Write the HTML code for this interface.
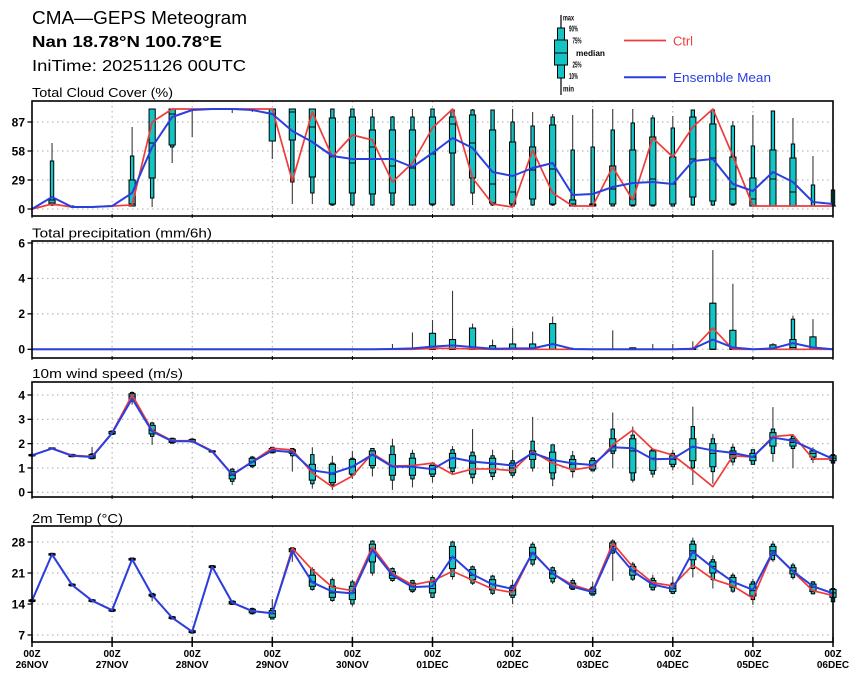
<!DOCTYPE html>
<html><head><meta charset="utf-8">
<style>
html,body{margin:0;padding:0;background:#fff;}
svg{display:block;}
text{font-family:"Liberation Sans",Arial,sans-serif;fill:#000;}
.yl{font-size:12px;font-weight:bold;text-anchor:end;}
.xl{font-size:10px;font-weight:bold;text-anchor:middle;}
.lg{font-size:8.5px;font-weight:bold;}
</style></head><body>
<svg id="s" width="860" height="680" viewBox="0 0 860 680" xmlns="http://www.w3.org/2000/svg">
<rect width="860" height="680" fill="#fff"/>
<g id="grid"></g>
<g id="boxes"></g>
<g id="lines"></g>
<g id="frames"></g>

<text x="32" y="24" font-size="18" textLength="215" lengthAdjust="spacingAndGlyphs">CMA—GEPS Meteogram</text>
<text x="32" y="47" font-size="16" font-weight="bold" textLength="190" lengthAdjust="spacingAndGlyphs">Nan 18.78°N 100.78°E</text>
<text x="32" y="71" font-size="16" textLength="214" lengthAdjust="spacingAndGlyphs">IniTime: 20251126 00UTC</text>

<!-- legend -->
<line x1="561" y1="15" x2="561" y2="95" stroke="#000" stroke-width="1.2"/>
<rect x="557.5" y="28" width="7" height="50" fill="#14c3c3" stroke="#000" stroke-width="1"/>
<rect x="554.5" y="40" width="13" height="25" fill="#14c3c3" stroke="#000" stroke-width="1"/>
<line x1="554.5" y1="53" x2="567.5" y2="53" stroke="#000" stroke-width="1"/>
<text class="lg" x="563" y="20.5" textLength="11" lengthAdjust="spacingAndGlyphs">max</text>
<text class="lg" x="569" y="31.5" textLength="9" lengthAdjust="spacingAndGlyphs">90%</text>
<text class="lg" x="572.5" y="43.5" textLength="9" lengthAdjust="spacingAndGlyphs">75%</text>
<text class="lg" x="576" y="56" textLength="29" lengthAdjust="spacingAndGlyphs">median</text>
<text class="lg" x="572.5" y="67.5" textLength="9" lengthAdjust="spacingAndGlyphs">25%</text>
<text class="lg" x="569" y="79" textLength="9" lengthAdjust="spacingAndGlyphs">10%</text>
<text class="lg" x="563" y="91.5" textLength="11" lengthAdjust="spacingAndGlyphs">min</text>
<line x1="624" y1="40.5" x2="666" y2="40.5" stroke="#ee3b3b" stroke-width="1.8"/>
<text x="673" y="45.5" font-size="13" style="fill:#ee3b3b" textLength="20" lengthAdjust="spacingAndGlyphs">Ctrl</text>
<line x1="624" y1="77.3" x2="666" y2="77.3" stroke="#2a3fe0" stroke-width="2"/>
<text x="673" y="82" font-size="13" style="fill:#2a3fe0" textLength="98" lengthAdjust="spacingAndGlyphs">Ensemble Mean</text>

<!-- panel titles -->
<text x="32" y="97" font-size="12.5" textLength="141" lengthAdjust="spacingAndGlyphs">Total Cloud Cover (%)</text>
<text x="32" y="237.5" font-size="12.5" textLength="180" lengthAdjust="spacingAndGlyphs">Total precipitation (mm/6h)</text>
<text x="32" y="378" font-size="12.5" textLength="151" lengthAdjust="spacingAndGlyphs">10m wind speed (m/s)</text>
<text x="32" y="523" font-size="12.5" textLength="91" lengthAdjust="spacingAndGlyphs">2m Temp (°C)</text>

<!-- y labels -->
<text class="yl" x="25" y="126.3">87</text>
<text class="yl" x="25" y="155.3">58</text>
<text class="yl" x="25" y="184.3">29</text>
<text class="yl" x="25" y="213.3">0</text>

<text class="yl" x="25" y="247.3">6</text>
<text class="yl" x="25" y="282.6">4</text>
<text class="yl" x="25" y="318.2">2</text>
<text class="yl" x="25" y="353.6">0</text>

<text class="yl" x="25" y="399.3">4</text>
<text class="yl" x="25" y="423.6">3</text>
<text class="yl" x="25" y="448">2</text>
<text class="yl" x="25" y="472.3">1</text>
<text class="yl" x="25" y="496.6">0</text>

<text class="yl" x="25" y="546.3">28</text>
<text class="yl" x="25" y="577.3">21</text>
<text class="yl" x="25" y="608.3">14</text>
<text class="yl" x="25" y="639.3">7</text>

<!-- x labels -->
<text class="xl" x="32" y="657">00Z</text><text class="xl" x="32" y="668">26NOV</text>
<text class="xl" x="112.1" y="657">00Z</text><text class="xl" x="112.1" y="668">27NOV</text>
<text class="xl" x="192.2" y="657">00Z</text><text class="xl" x="192.2" y="668">28NOV</text>
<text class="xl" x="272.3" y="657">00Z</text><text class="xl" x="272.3" y="668">29NOV</text>
<text class="xl" x="352.4" y="657">00Z</text><text class="xl" x="352.4" y="668">30NOV</text>
<text class="xl" x="432.5" y="657">00Z</text><text class="xl" x="432.5" y="668">01DEC</text>
<text class="xl" x="512.6" y="657">00Z</text><text class="xl" x="512.6" y="668">02DEC</text>
<text class="xl" x="592.7" y="657">00Z</text><text class="xl" x="592.7" y="668">03DEC</text>
<text class="xl" x="672.8" y="657">00Z</text><text class="xl" x="672.8" y="668">04DEC</text>
<text class="xl" x="752.9" y="657">00Z</text><text class="xl" x="752.9" y="668">05DEC</text>
<text class="xl" x="833" y="657">00Z</text><text class="xl" x="833" y="668">06DEC</text>
</svg>
<script>
(function(){
const NS='http://www.w3.org/2000/svg';
function el(tag,a,p){const e=document.createElementNS(NS,tag);for(const k in a)e.setAttribute(k,a[k]);p.appendChild(e);return e;}
const X=i=>32+i*20.025;
const gGrid=document.getElementById('grid'),gBox=document.getElementById('boxes'),gLines=document.getElementById('lines'),gFr=document.getElementById('frames');
function tb(v,d){return [v-d,v-d*0.7,v-d*0.45,v,v+d*0.45,v+d*0.7,v+d];}

// Panel 1 cloud
const c1=[0,5,2,2,3,4,87,100,100,100,100,100,100,28,97,52,74,69,27,46,81,100,31,5,2,59,16,3,3,42,9,71,52,82,100,53,3,3,3,3,3];
const m1=[0,12,2,2,3,16,62,92,99,100,100,99,95,78,67,53,50,50,50,42,56,71,61,37,33,41,46,14,15,22,26,27,25,48,50,25,18,37,27,7,5];
const b1=[
[0,0,0,0,0,0,0],[3,4,4,6,9,48,66],[1,2,2,2,2,3,3],[2,2,2,2,2,2,2.5],[3,3,3,3,3,3,3.5],
[3,3,3,5,29,53,82],[2,11,31,66,100,100,100],[46,62,64,95,100,100,100],[72,100,100,100,100,100,100],[99,100,100,100,100,100,100],
[96,100,100,100,100,100,100],[97,100,100,100,100,100,100],[50,68,68,95,100,100,100],[5,27,69,97,100,100,100],[5,16,32,82,100,100,100],
[3,4,5,52,91,100,100],[3,4,16,46,92,100,100],[3,4,15,62,79,92,100],[3,4,16,43,79,92,93],[3,4,4,41,79,92,100],
[3,4,5,55,92,100,100],[3,4,56,85,92,99,100],[4,16,31,66,94,99,100],[3,4,6,25,79,99,99],[3,3,5,17,67,87,100],
[3,4,10,39,62,83,97],[3,4,5,40,84,92,95],[3,3,3,5,9,59,94],[3,3,3,4,5,62,100],[3,3,5,20,43,79,100],
[3,3,4,10,59,86,100],[3,3,4,30,72,91,94],[3,3,5,25,52,81,93],[3,4,12,50,92,99,99],[3,4,8,51,85,99,99],
[3,4,5,20,52,83,88],[3,3,3,10,31,63,94],[3,3,3,30,59,98,98],[3,3,3,17,51,65,91],[3,3,3,3,3,24,53],[3,3,3,3,3,19,19]];

// Panel 2 precip
const c2=new Array(41).fill(0); c2[20]=0.05;c2[21]=0.05;c2[22]=0.02;c2[34]=1.2;
const m2=new Array(41).fill(0);
Object.entries({18:0.02,19:0.05,20:0.15,21:0.22,22:0.12,23:0.03,24:0.05,25:0.05,26:0.3,27:0.02,33:0.03,34:0.55,35:0.1,37:0.05,38:0.35,39:0.1}).forEach(([k,v])=>m2[k]=v);
const b2=new Array(41).fill(null);
const pb={15:[0,0,0,0,0,0,0.05],16:[0,0,0,0,0,0,0.06],17:[0,0,0,0,0,0,0.05],18:[0,0,0,0,0,0,0.3],19:[0,0,0,0,0,0,0.95],
20:[0,0,0,0,0.9,0.9,1.65],21:[0,0,0,0,0.55,0.55,3.3],22:[0,0,0,0,1.2,1.2,1.45],23:[0,0,0,0,0.2,0.2,0.55],24:[0,0,0,0,0.3,0.3,1.2],
25:[0,0,0,0,0.3,0.3,1.0],26:[0,0,0,0,1.45,1.45,1.85],27:[0,0,0,0,0,0,0.1],29:[0,0,0,0,0,0,1.07],30:[0,0,0,0,0.08,0.08,0.1],
31:[0,0,0,0,0,0,0.3],32:[0,0,0,0,0,0,0.3],33:[0,0,0,0,0.05,0.05,0.45],34:[0,0,0,0,2.6,2.6,5.6],35:[0,0,0,0,1.07,1.07,3.7],
37:[0,0,0,0,0.25,0.25,0.35],38:[0,0,0,0.1,0.55,1.7,1.9],39:[0,0,0,0,0.7,0.7,1.7]};
for(const k in pb)b2[k]=pb[k];

// Panel 3 wind
const c3=[1.52,1.81,1.52,1.47,2.45,4.0,2.55,2.12,2.12,1.7,0.74,1.26,1.81,1.74,0.8,0.22,0.67,1.6,1.08,1.1,1.2,0.74,0.96,0.96,0.89,1.67,1.2,0.92,1.05,1.95,2.56,1.77,1.53,0.9,0.23,1.5,1.45,2.29,2.36,1.37,1.37];
const m3=[1.52,1.8,1.5,1.45,2.43,3.85,2.5,2.1,2.1,1.68,0.72,1.25,1.72,1.65,0.9,0.78,1.05,1.55,1.05,1.05,0.95,1.42,1.26,1.19,1.1,1.62,1.33,1.19,1.12,1.85,1.81,1.36,1.38,1.88,1.72,1.62,1.45,2.25,2.12,1.74,1.37];
const b3=[
[1.48,1.49,1.5,1.52,1.55,1.56,1.57],[1.77,1.78,1.79,1.8,1.82,1.83,1.84],[1.45,1.46,1.47,1.5,1.55,1.56,1.57],[1.35,1.38,1.4,1.45,1.55,1.58,1.86],[2.35,2.38,2.4,2.43,2.5,2.52,2.55],
[3.6,3.75,3.8,3.95,4.05,4.1,4.15],[1.95,2.3,2.4,2.55,2.75,2.85,2.9],[2.0,2.02,2.05,2.1,2.2,2.22,2.25],[2.05,2.07,2.08,2.1,2.17,2.19,2.2],[1.64,1.65,1.66,1.68,1.7,1.71,1.72],
[0.3,0.45,0.55,0.7,0.85,0.95,1.0],[1.0,1.05,1.1,1.25,1.4,1.45,1.5],[1.6,1.62,1.65,1.75,1.8,1.85,1.86],[0.85,1.5,1.6,1.7,1.75,1.8,1.8],[0.15,0.35,0.5,0.9,1.15,1.55,1.85],
[0.1,0.3,0.4,0.75,1.15,1.2,1.5],[0.55,0.7,0.75,1.05,1.35,1.4,1.7],[0.65,1.0,1.1,1.55,1.7,1.8,1.8],[0.1,0.5,0.7,1.1,1.55,1.9,2.2],[0.2,0.55,0.7,1.05,1.4,1.6,1.75],
[0.4,0.65,0.75,0.95,1.1,1.2,1.25],[0.75,0.85,1.0,1.4,1.6,1.75,1.9],[0.35,0.6,0.75,1.2,1.5,1.65,2.6],[0.5,0.65,0.8,1.15,1.4,1.5,1.75],[0.6,0.7,0.8,1.0,1.2,1.3,1.75],
[0.85,1.0,1.35,1.55,1.7,2.1,3.1],[0.25,0.55,0.8,1.3,1.65,1.95,1.95],[0.6,0.85,0.95,1.15,1.35,1.5,1.7],[0.85,0.88,0.95,1.1,1.3,1.4,1.45],[1.0,1.6,1.7,1.9,2.2,2.6,3.28],
[0.4,0.5,0.8,1.7,2.2,2.35,2.7],[0.6,0.75,0.9,1.4,1.7,1.75,1.75],[0.9,1.05,1.15,1.35,1.5,1.6,1.75],[0.3,1.0,1.3,1.85,2.2,2.7,3.52],[0.35,0.85,1.05,1.6,2.0,2.2,2.4],
[1.1,1.25,1.4,1.55,1.7,1.85,2.0],[1.15,1.15,1.3,1.45,1.6,1.75,1.75],[1.25,1.6,1.9,2.25,2.45,2.6,3.5],[1.0,1.8,1.9,2.05,2.2,2.3,2.35],[1.2,1.35,1.45,1.6,1.7,1.75,1.85],
[1.2,1.2,1.3,1.4,1.5,1.55,1.55]];

// Panel 4 temp
const c4=[14.75,25.2,18.3,14.75,12.6,24.1,16.0,10.9,7.75,22.4,14.3,12.4,11.9,26.6,21.7,17.8,17.0,26.9,20.9,18.3,19.2,21.4,19.4,17.4,16.6,25.7,20.9,18.3,16.9,27.7,22.4,18.8,18.1,22.8,19.6,18.1,15.3,25.8,21.3,17.0,15.9];
const m4=[14.75,25.2,18.3,14.75,12.6,24.1,16.0,10.9,7.75,22.4,14.3,12.4,11.9,26.0,18.9,16.8,16.4,26.2,20.5,17.8,18.0,24.7,20.7,18.4,17.4,25.6,20.9,17.9,16.7,26.7,21.4,18.4,17.4,25.8,22.2,19.0,17.2,25.8,21.4,18.0,16.4];
const b4=[tb(14.75,0.35),tb(25.2,0.35),tb(18.3,0.35),tb(14.75,0.35),tb(12.6,0.4),tb(24.1,0.4),[14.6,15.6,15.8,16,16.2,16.4,16.5],tb(10.9,0.4),tb(7.75,0.45),tb(22.4,0.4),
[13.8,13.9,14.0,14.3,14.6,14.7,14.8],[11.6,11.8,12,12.4,12.8,13,13.2],[10.5,10.6,11,11.8,12.5,13,15.1],[23.5,25.5,25.8,26.2,26.5,26.7,26.8],[17,17.3,18,19,20.5,21.8,22.3],
[14.5,14.8,15.5,16.5,18,19.5,20],[13.5,14,15,16.5,18,19,19.5],[20.4,21,23.5,26.5,27.5,28.2,28.4],[19,19.3,19.8,20.5,21.3,22,22.3],[16.5,16.8,17.2,18,18.7,19.3,19.5],
[15.3,15.5,16.5,17.5,19,20,20.5],[19.5,20.2,22,24.5,27,28,28.3],[18.3,18.7,19.5,20.5,21.8,22.4,22.7],[16,16.4,17.2,18.5,19.5,20.3,20.6],[14,15.5,16,17,17.8,18.2,19.5],
[22.5,23,24,25.5,26.8,27.5,28],[18.5,19,19.8,20.8,21.5,22.2,22.5],[17.2,17.3,17.6,18,18.7,19.3,19.8],[16,16,16.3,16.8,17.4,17.8,19],[19.2,25.5,26,27,27.8,28.2,28.6],
[19.2,19.6,20.5,21.5,22.5,23,23.5],[17,17.2,17.8,18.5,19.3,19.8,20.6],[16.2,16.4,16.8,17.5,18.3,18.7,20.2],[20,22,24,26,27.5,28.2,29],[17.5,19.5,21,22.5,23.5,24,25],
[16.5,16.9,17.8,19,20,20.5,21],[13.8,15,15.8,17,18.5,19,19.7],[23.5,24,25,26,27,27.5,28.2],[19.5,20,20.8,21.5,22.2,22.8,23.3],[16.2,16.3,16.8,17.8,18.5,19,19.2],
[14.3,14.5,15.5,16.5,17.3,17.5,17.7]];

const panels=[
 {top:101,bot:216,yf:v=>209-v,ticks:[0,29,58,87],c:c1,m:m1,b:b1},
 {top:241,bot:358,yf:v=>349.3-17.72*v,ticks:[0,2,4,6],c:c2,m:m2,b:b2},
 {top:382,bot:497,yf:v=>492.3-24.33*v,ticks:[0,1,2,3,4],c:c3,m:m3,b:b3},
 {top:526,bot:642,yf:v=>635-(v-7)*4.4286,ticks:[7,14,21,28],c:c4,m:m4,b:b4}
];
const CY='#14c3c3';
panels.forEach((p,pi)=>{
  for(let d=1;d<=9;d++){const x=32+80.1*d;el('line',{x1:x,y1:p.top,x2:x,y2:p.bot,stroke:'#a8a8a8','stroke-width':1,'stroke-dasharray':'1.5 3.5'},gGrid);}
  p.ticks.forEach(t=>{const y=p.yf(t);el('line',{x1:32,y1:y,x2:833,y2:y,stroke:'#a8a8a8','stroke-width':1,'stroke-dasharray':'1.5 3.5'},gGrid);
    el('line',{x1:27.5,y1:y,x2:32,y2:y,stroke:'#000','stroke-width':1.3},gFr);});
  p.b.forEach((b,i)=>{ if(!b) return; const x=X(i);
    if(Math.max.apply(null,b)<=0) return;
    const Y=b.map(p.yf);
    el('line',{x1:x,y1:Y[0],x2:x,y2:Y[6],stroke:'#3a3a3a','stroke-width':1.1},gBox);
    const tw=3.4; const kw=6.2;
    el('rect',{x:x-tw/2,y:Math.min(Y[5],Y[1]),width:tw,height:Math.abs(Y[1]-Y[5]),fill:CY,stroke:'#000','stroke-width':1},gBox);
    el('rect',{x:x-kw/2,y:Math.min(Y[4],Y[2]),width:kw,height:Math.abs(Y[2]-Y[4]),fill:CY,stroke:'#000','stroke-width':1},gBox);
    el('line',{x1:x-kw/2,y1:Y[3],x2:x+kw/2,y2:Y[3],stroke:'#000','stroke-width':1},gBox);
  });
  const pts=a=>a.map((v,i)=>X(i).toFixed(2)+','+p.yf(v).toFixed(2)).join(' ');
  el('polyline',{points:pts(p.c),fill:'none',stroke:'#ee3b3b','stroke-width':1.7,'stroke-linejoin':'round'},gLines);
  el('polyline',{points:pts(p.m),fill:'none',stroke:'#2a3fe0','stroke-width':2,'stroke-linejoin':'round'},gLines);
  el('rect',{x:32,y:p.top,width:801,height:p.bot-p.top,fill:'none',stroke:'#000','stroke-width':1.6},gFr);
  for(let d=0;d<=10;d++){const x=32+80.1*d;
    if(pi===3) el('line',{x1:x,y1:p.bot-5,x2:x,y2:p.bot+5,stroke:'#000','stroke-width':1.5},gFr);
    else el('line',{x1:x,y1:p.bot-2,x2:x,y2:p.bot+2,stroke:'#000','stroke-width':1},gFr);
  }
});
})();
</script>
</body></html>
